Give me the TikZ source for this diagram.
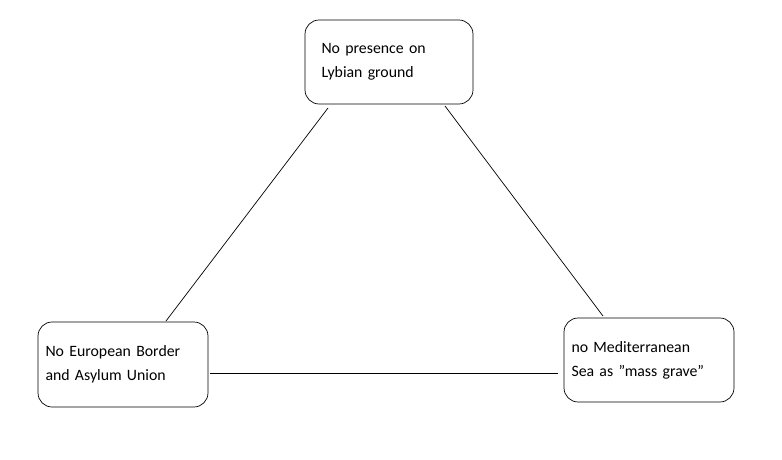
\documentclass[tikz,border=0pt]{standalone}
\usepackage{fontspec}
\setmainfont{Carlito}[Ligatures=ResetAll]
\begin{document}
\begin{tikzpicture}[x=0.02cm,y=-0.02cm,
  box/.style={draw,rounded corners=8pt,align=left,
    font=\fontsize{9pt}{13.6pt}\selectfont,inner ysep=0pt}]
\useasboundingbox (0,0) rectangle (782,460);
\node (lybia) at (389,62) [box,minimum width=3.36cm,minimum height=1.68cm,text width=2.7cm,inner xsep=0.33cm] {No presence on\\Lybian ground};
\node (union) at (123,364.5) [box,minimum width=3.4cm,minimum height=1.7cm,text width=3.1cm,inner xsep=0.15cm] {No European Border\\and Asylum Union};
\node (sea) at (649,360) [box,minimum width=3.4cm,minimum height=1.68cm,text width=3.1cm,inner xsep=0.15cm] {no Mediterranean\\Sea as "mass grave"};
\coordinate (t1) at (328,108);
\coordinate (l1) at (166,321);
\coordinate (t2) at (445,106);
\coordinate (r1) at (603,316);
\coordinate (l2) at (210,373);
\coordinate (r2) at (558,373);
\draw (t1) -- (l1);
\draw (t2) -- (r1);
\draw (l2) -- (r2);
\end{tikzpicture}
\end{document}
